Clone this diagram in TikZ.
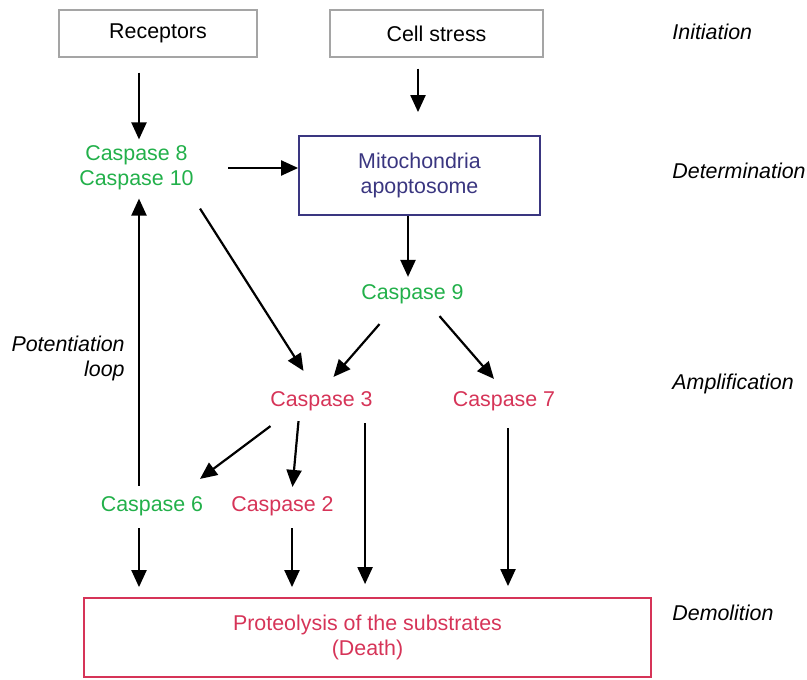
\documentclass[tikz,border=0pt]{standalone}
\usepackage{fontspec}
\setmainfont{Liberation Sans}
\usetikzlibrary{arrows.meta,calc}

\definecolor{casgreen}{RGB}{34,176,74}
\definecolor{casred}{RGB}{214,52,88}
\definecolor{mitoblue}{RGB}{58,54,128}
\definecolor{boxgray}{RGB}{165,165,165}

\begin{document}
\begin{tikzpicture}[x=0.5pt,y=-0.5pt,
  every node/.style = {font=\fontsize{10.7}{12.5}\selectfont,
    align=center, inner sep=0pt},
  inbox/.style = {draw=boxgray, line width=0.7pt, minimum height=23.5pt},
  stage/.style = {anchor=west, font=\fontsize{10.7}{12.5}\selectfont\itshape},
  green/.style = {text=casgreen},
  red/.style = {text=casred},
  arr/.style = {-{Triangle[length=8.5pt,width=7.5pt]}, line width=1.1pt}]
  \useasboundingbox (0,0) rectangle (807,679);

  % top row: the two triggers
  \node[inbox, minimum width=99pt] (rec) at (158,33.5) {Receptors};
  \node[inbox, minimum width=106.5pt] (cs) at (436.5,33.5) {Cell stress};

  % caspases and the two boxes
  \node[green] (c8) at (136.5,168) {Caspase 8\\Caspase 10};
  \node[draw=mitoblue, line width=0.9pt, text=mitoblue,
    minimum width=120.5pt, minimum height=39.5pt] (mito) at (419.5,175.5)
    {Mitochondria\\apoptosome};
  \node[green] (c9) at (412.5,294) {Caspase 9};
  \node[red] (c3) at (321.5,401) {Caspase 3};
  \node[red] (c7) at (504,401) {Caspase 7};
  \node[green] (c6) at (152,506) {Caspase 6};
  \node[red] (c2) at (282.5,506) {Caspase 2};
  \node[draw=casred, line width=0.9pt, text=casred,
    minimum width=283.5pt, minimum height=39.5pt] (prot) at (367.5,637.5)
    {Proteolysis of the substrates\\(Death)};

  % stages on the right
  \node[stage] (ini) at (672,32) {Initiation};
  \node[stage] (det) at (672,171) {Determination};
  \node[stage] (amp) at (672,384) {Amplification};
  \node[stage] (dem) at (672,613) {Demolition};
  \node[anchor=east, align=right, font=\fontsize{10.7}{12.5}\selectfont\itshape]
    (loop) at (125,358) {Potentiation\\loop};

  % connectors
  \draw[arr, shorten <=7.5pt, shorten >=3pt] (rec.south -| 139,0) -- (c8.north -| 139,0);
  \draw[arr, shorten <=5.5pt, shorten >=11.5pt] (cs.south -| 418,0) -- (mito.north -| 418,0);
  \draw[arr, shorten <=17pt] (c8.east) -- (c8.east -| mito.west);
  \draw[arr, shorten >=3.5pt] (mito.south -| 408,0) -- (c9.north -| 408,0);
  \draw[arr] ($(c8.south east)+(6,18)$) -- ($(c3.north)+(-18,-20)$);
  \draw[arr] ($(c9.south)+(-33,20)$) -- ($(c3.north)+(12,-14)$);
  \draw[arr] ($(c9.south)+(27,12)$) -- ($(c7.north)+(-10,-12)$);
  \draw[arr] ($(c3.south)+(-51,15)$) -- ($(c6.north)+(48,-17)$);
  \draw[arr] ($(c3.south)+(-23,10)$) -- ($(c2.north)+(10,-9)$);
  \draw[arr] ($(c6.north)+(-13,-10)$) -- ($(c8.south)+(2.5,8)$);

  % into the substrates
  \draw[arr, shorten >=5pt] ($(c6.south)+(-13,12)$) coordinate (s6) -- (s6 |- prot.north);
  \draw[arr, shorten >=5pt] ($(c2.south)+(9.5,12)$) coordinate (s2) -- (s2 |- prot.north);
  \draw[arr, shorten >=6.5pt] ($(c3.south east)+(-8,12)$) coordinate (s3) -- (s3 |- prot.north);
  \draw[arr, shorten >=5.5pt] ($(c7.south)+(4,17)$) coordinate (s7) -- (s7 |- prot.north);
\end{tikzpicture}
\end{document}
